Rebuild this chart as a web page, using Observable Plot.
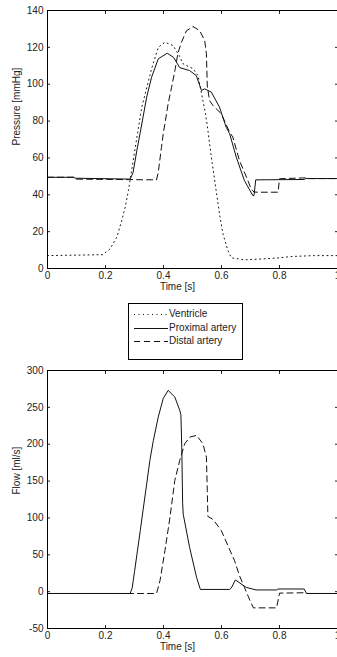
<!DOCTYPE html>
<html>
<head>
<meta charset="utf-8">
<script src="https://cdn.jsdelivr.net/npm/d3@7"></script>
<script src="https://cdn.jsdelivr.net/npm/@observablehq/plot@0.6"></script>
<style>
  html, body { margin: 0; padding: 0; background: #fff; }
  #wrap { position: relative; width: 337px; height: 657px; overflow: hidden; font-family: "Liberation Sans", Arial, sans-serif; }
  #top, #bottom { position: absolute; left: 0; }
  #top { top: 0; }
  #bottom { top: 360px; }
  #legend { position: absolute; left: 128px; top: 303px; width: 115px; height: 57px; box-sizing: border-box; border: 1px solid #000; background: #fff; }
  .row { position: absolute; left: 0; height: 12px; width: 113px; }
  .row svg { position: absolute; left: 5px; top: 0; }
  .row span { position: absolute; left: 40px; top: 0; font-size: 10px; line-height: 12px; color: #222; white-space: nowrap; }
</style>
</head>
<body>
<div id="wrap">
  <div id="top"></div>
  <div id="legend"></div>
  <div id="bottom"></div>
</div>
<script>
// ---- Data ----
const seriesNames = ["Ventricle", "Proximal artery", "Distal artery"];
const xTicks = [0, 0.2, 0.4, 0.6, 0.8, 1];
const pressureTicks = [0, 20, 40, 60, 80, 100, 120, 140];
const flowTicks = [-50, 0, 50, 100, 150, 200, 250, 300];

// Pressure [mmHg]
const ventricleT = [0, 0.19, 0.216, 0.239, 0.256, 0.268, 0.279, 0.30, 0.325, 0.359, 0.382, 0.405, 0.433, 0.454, 0.468, 0.502, 0.519, 0.536, 0.545, 0.553, 0.565, 0.58, 0.593, 0.605, 0.622, 0.634, 0.679, 0.754, 0.8, 0.84, 0.92, 1.0];
const ventricleP = [7, 7.5, 10.7, 17, 26, 33.3, 42.3, 63, 87.5, 108.4, 120, 122.8, 121, 115.6, 111, 108.4, 104.7, 91, 84, 75, 60.4, 44, 29.7, 18.8, 9.8, 5.8, 4.7, 5.3, 5.8, 6.5, 7, 7];

const proximalT = [0, 0.09, 0.095, 0.285, 0.295, 0.308, 0.32, 0.342, 0.359, 0.382, 0.413, 0.435, 0.456, 0.49, 0.513, 0.531, 0.542, 0.565, 0.593, 0.616, 0.628, 0.651, 0.679, 0.708, 0.712, 0.718, 0.885, 0.89, 1.0];
const proximalP = [49.5, 49.5, 49.0, 48.5, 52, 64, 74, 93, 103.8, 113.8, 116.8, 114.5, 109, 107.4, 104.7, 96.6, 97.5, 95.7, 87.6, 76.7, 73.2, 60.4, 47.7, 39.6, 39.5, 48.1, 48.3, 48.8, 48.8];

const distalT = [0, 0.09, 0.095, 0.376, 0.382, 0.393, 0.399, 0.416, 0.428, 0.44, 0.45, 0.462, 0.479, 0.502, 0.525, 0.542, 0.548, 0.551, 0.559, 0.571, 0.599, 0.628, 0.639, 0.662, 0.691, 0.702, 0.712, 0.725, 0.795, 0.80, 0.89, 0.895, 1.0];
const distalP = [49.5, 49.5, 48.5, 48.1, 52.3, 65.8, 73, 89.4, 98.4, 108, 117, 122.8, 129, 131.3, 129, 123.7, 116.5, 99, 91, 88.4, 84, 74, 71.3, 58.6, 47.7, 43.2, 41.5, 41.4, 41.4, 48.7, 49.2, 48.8, 48.8];

// Flow [ml/s]
const proxFlowT = [0, 0.285, 0.292, 0.30, 0.31, 0.32, 0.33, 0.342, 0.353, 0.365, 0.382, 0.399, 0.416, 0.439, 0.456, 0.46, 0.463, 0.466, 0.468, 0.49, 0.514, 0.527, 0.628, 0.634, 0.648, 0.685, 0.719, 0.79, 0.795, 0.885, 0.893, 1.0];
const proxFlowQ = [-2.5, -2.5, 5, 27, 55, 83, 112, 146, 178, 205, 237, 262, 273, 264, 246, 240, 196, 120, 105, 60, 19.4, 3, 3, 5, 15.9, 5.8, 2.3, 2.3, 3.6, 3.6, -2.5, -2.5];

const distFlowT = [0, 0.376, 0.388, 0.405, 0.422, 0.439, 0.456, 0.473, 0.491, 0.514, 0.536, 0.548, 0.551, 0.553, 0.571, 0.599, 0.622, 0.645, 0.662, 0.679, 0.696, 0.71, 0.79, 0.80, 0.89, 0.895, 1.0];
const distFlowQ = [-2.5, -2.5, 15, 55.7, 100, 150.8, 178, 200.6, 209.7, 212, 200.6, 182.5, 137, 102, 98, 83, 62.5, 42, 21.7, 5.8, -10, -22, -22, -2, -1.5, -2.5, -2.5];

// ---- Styles ----
const dashes = {"Ventricle": "1,3.5", "Proximal artery": null, "Distal artery": "6,4"};
const ink = "#111";
const fmt = d => String(d);

function zipSeries(ts, vs, name) { return ts.map((t, i) => ({t, v: vs[i], name})); }

const pressureData = [
  zipSeries(ventricleT, ventricleP, seriesNames[0]),
  zipSeries(proximalT, proximalP, seriesNames[1]),
  zipSeries(distalT, distalP, seriesNames[2])
];
const flowData = [
  zipSeries(proxFlowT, proxFlowQ, seriesNames[1]),
  zipSeries(distFlowT, distFlowQ, seriesNames[2])
];

function panel({data, yDomain, yTicks, yLabel, height, marginBottom, yLabelDy}) {
  const lines = data.map(rows => Plot.line(rows, {
    x: "t", y: "v", stroke: ink, strokeWidth: 1,
    strokeDasharray: dashes[rows[0].name] || undefined
  }));
  return Plot.plot({
    width: 337, height,
    marginLeft: 47, marginRight: 0, marginTop: 10, marginBottom,
    style: {fontFamily: "'Liberation Sans', Arial, sans-serif", fontSize: "10px", color: "#222", background: "#fff", overflow: "visible"},
    x: {domain: [0, 1]},
    y: {domain: yDomain},
    marks: [
      Plot.axisX({anchor: "bottom", ticks: xTicks, tickSize: -3, tickPadding: 6.5, tickFormat: fmt, label: null, fontSize: 10}),
      Plot.axisX({anchor: "top", ticks: xTicks, tickSize: -3, tickFormat: () => "", label: null}),
      Plot.axisY({anchor: "left", ticks: yTicks, tickSize: -3, tickPadding: 7, tickFormat: fmt, label: null, fontSize: 10}),
      Plot.axisY({anchor: "right", ticks: yTicks, tickSize: -3, tickFormat: () => "", label: null}),
      ...lines,
      Plot.frame({stroke: "#000", strokeWidth: 1}),
      Plot.text(["Time [s]"], {text: d => d, frameAnchor: "bottom", dy: 21.5, dx: -15, fontSize: 10, fill: "#222"}),
      Plot.text([yLabel], {text: d => d, frameAnchor: "left", rotate: -90, dx: -31, dy: yLabelDy, fontSize: 10, fill: "#222"})
    ]
  });
}

document.getElementById("top").appendChild(panel({
  data: pressureData, yDomain: [0, 140], yTicks: pressureTicks,
  yLabel: "Pressure [mmHg]", height: 300, marginBottom: 32, yLabelDy: 6
}));
document.getElementById("bottom").appendChild(panel({
  data: flowData, yDomain: [-50, 300], yTicks: flowTicks,
  yLabel: "Flow [ml/s]", height: 297, marginBottom: 29, yLabelDy: -5
}));

// ---- Legend ----
const legend = document.getElementById("legend");
seriesNames.forEach((name, i) => {
  const row = document.createElement("div");
  row.className = "row";
  row.style.top = (4 + i * 13.5) + "px";
  const ns = "http://www.w3.org/2000/svg";
  const svg = document.createElementNS(ns, "svg");
  svg.setAttribute("width", 34); svg.setAttribute("height", 12);
  const ln = document.createElementNS(ns, "line");
  ln.setAttribute("x1", 0); ln.setAttribute("x2", 34);
  ln.setAttribute("y1", 6.5); ln.setAttribute("y2", 6.5);
  ln.setAttribute("stroke", ink); ln.setAttribute("stroke-width", 1);
  if (dashes[name]) ln.setAttribute("stroke-dasharray", dashes[name]);
  svg.appendChild(ln);
  const span = document.createElement("span");
  span.textContent = name;
  row.appendChild(svg); row.appendChild(span);
  legend.appendChild(row);
});
</script>
</body>
</html>
